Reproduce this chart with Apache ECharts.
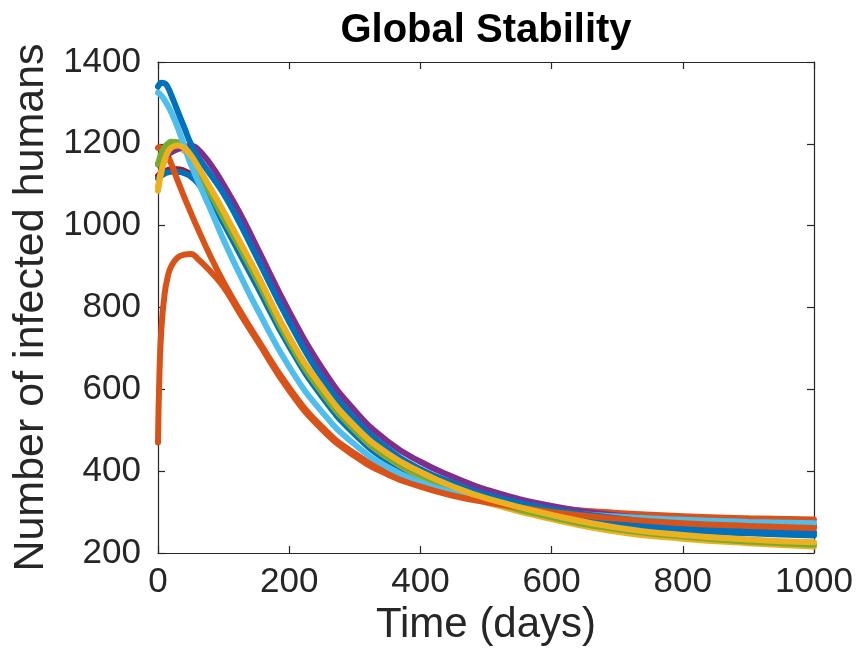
<!DOCTYPE html>
<html>
<head>
<meta charset="utf-8">
<script src="https://cdn.jsdelivr.net/npm/echarts@6/dist/echarts.min.js"></script>
<style>
html,body{margin:0;padding:0;background:#fff;}
#chart{width:856px;height:668px;}
</style>
</head>
<body>
<div id="chart"></div>
<script>
// Time samples (days)
var times = [0, 2, 5, 10, 15, 20, 30, 40, 50, 60, 80, 100, 125, 150, 200, 250, 300, 350, 400, 450, 500, 600, 700, 800, 900, 1000];

// Number of infected humans for each initial condition
var darkRed  = [1122, 1125, 1129, 1133, 1136, 1138, 1138, 1134, 1126, 1112, 1069, 1012, 937, 862, 712, 588, 496, 431, 388, 356, 331, 298, 276, 262, 254, 249];
var blueB    = [1115, 1118, 1122, 1127, 1130, 1132, 1132, 1128, 1120, 1105, 1062, 1005, 930, 855, 705, 582, 490, 425, 382, 350, 325, 292, 270, 256, 248, 243];
var redA     = [1190, 1192, 1190, 1183, 1170, 1152, 1110, 1070, 1032, 995, 925, 862, 792, 727, 604, 508, 443, 398, 368, 346, 330, 310, 298, 290, 285, 282];
var yellowB  = [1095, 1112, 1135, 1160, 1176, 1185, 1190, 1183, 1163, 1138, 1082, 1025, 950, 875, 718, 595, 500, 433, 388, 353, 324, 283, 252, 235, 224, 216];
var purple   = [1150, 1153, 1158, 1166, 1173, 1179, 1187, 1193, 1195, 1188, 1150, 1100, 1030, 950, 790, 652, 548, 473, 423, 386, 355, 315, 292, 279, 271, 266];
var green    = [1150, 1162, 1176, 1192, 1200, 1205, 1204, 1192, 1168, 1138, 1078, 1018, 945, 870, 715, 592, 500, 434, 390, 356, 328, 287, 258, 240, 228, 220];
var lightBlue= [1325, 1323, 1318, 1307, 1293, 1278, 1240, 1195, 1150, 1112, 1040, 965, 880, 800, 655, 545, 465, 410, 373, 347, 327, 302, 289, 281, 276, 273];
var blueA    = [1340, 1345, 1349, 1348, 1338, 1320, 1280, 1240, 1200, 1170, 1125, 1078, 1005, 925, 765, 628, 528, 455, 405, 371, 343, 307, 285, 267, 257, 250];
var redB     = [470, 625, 745, 832, 876, 900, 922, 929, 931, 920, 888, 850, 785, 722, 597, 502, 437, 392, 362, 340, 324, 300, 284, 273, 266, 261];
var yellowA  = [1085, 1105, 1130, 1160, 1180, 1190, 1196, 1190, 1172, 1147, 1092, 1035, 960, 885, 728, 605, 510, 443, 398, 362, 334, 293, 262, 244, 233, 226];

var seriesList = [darkRed, blueB, redA, yellowB, purple, green, lightBlue, blueA, redB, yellowA];
var seriesColors = ['#A2142F', '#0072BD', '#D95319', '#EDB120', '#7E2F8E', '#77AC30', '#4DBEEE', '#0072BD', '#D95319', '#EDB120'];

var xTicks = [0, 1000, 200];
var yTicks = [200, 1400, 200];

var axisColor = '#262626';
var fontFam = '"Liberation Sans", Arial, Helvetica, sans-serif';

function pairs(vals){
  return times.map(function(t, i){ return [t, vals[i]]; });
}
function plain(v){ return String(v); }

var chart = echarts.init(document.getElementById('chart'), null, {renderer: 'canvas'});

var baseX = {
  type: 'value', min: xTicks[0], max: xTicks[1], interval: xTicks[2],
  axisLine: {show: true, onZero: false, lineStyle: {color: axisColor, width: 1.2}},
  axisTick: {show: true, inside: true, length: 7, lineStyle: {color: axisColor, width: 1.2}},
  splitLine: {show: false}
};
var baseY = {
  type: 'value', min: yTicks[0], max: yTicks[1], interval: yTicks[2],
  axisLine: {show: true, onZero: false, lineStyle: {color: axisColor, width: 1.2}},
  axisTick: {show: true, inside: true, length: 7, lineStyle: {color: axisColor, width: 1.2}},
  splitLine: {show: false}
};

var option = {
  animation: false,
  backgroundColor: '#ffffff',
  textStyle: {fontFamily: fontFam},
  grid: {left: 158, top: 62, right: 42, bottom: 115, containLabel: false, outerBoundsMode: 'none'},
  graphic: [{
    type: 'text', x: 486, y: 31,
    style: {text: 'Global Stability', fontSize: 40, fontWeight: 'bold', fontFamily: fontFam, fill: '#000000', align: 'center', verticalAlign: 'middle'}
  }],
  xAxis: [
    Object.assign({}, baseX, {
      position: 'bottom',
      name: 'Time (days)', nameLocation: 'middle', nameGap: 46,
      nameTextStyle: {fontSize: 42, color: axisColor, fontFamily: fontFam},
      axisLabel: {show: true, fontSize: 35, color: axisColor, margin: 12, fontFamily: fontFam, formatter: plain}
    }),
    Object.assign({}, baseX, {position: 'top', axisLabel: {show: false}})
  ],
  yAxis: [
    Object.assign({}, baseY, {
      position: 'left',
      name: 'Number of infected humans', nameLocation: 'middle', nameGap: 96,
      nameTextStyle: {fontSize: 43, color: axisColor, fontFamily: fontFam},
      axisLabel: {show: true, fontSize: 35, color: axisColor, margin: 17, fontFamily: fontFam, formatter: plain}
    }),
    Object.assign({}, baseY, {position: 'right', axisLabel: {show: false}})
  ],
  series: seriesList.map(function(vals, i){
    return {
      type: 'line', xAxisIndex: 0, yAxisIndex: 0,
      data: pairs(vals), smooth: 0.5, showSymbol: false, symbol: 'none',
      lineStyle: {color: seriesColors[i], width: 6, cap: 'round', join: 'round'},
      itemStyle: {color: seriesColors[i]},
      z: 2 + i
    };
  })
};
chart.setOption(option);
</script>
</body>
</html>
